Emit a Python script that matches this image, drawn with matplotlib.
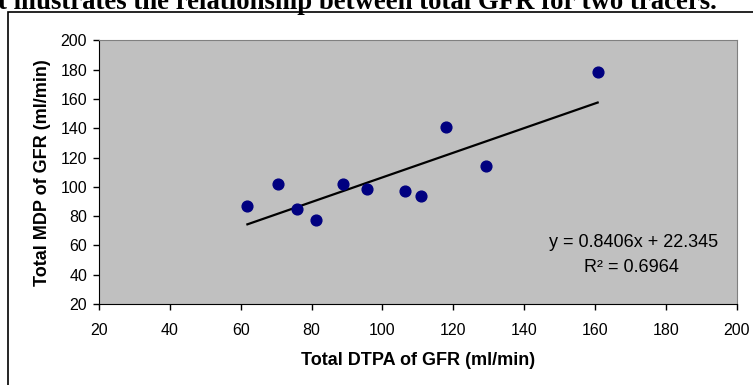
import matplotlib.pyplot as plt
from matplotlib.patches import Rectangle

# total GFR (ml/min)
dtpa_gfr = [61.9, 70.5, 75.9, 81.4, 88.9, 95.8, 106.4, 110.9, 118.1, 129.3, 160.8]
mdp_gfr = [86.9, 101.9, 84.8, 77.1, 101.9, 98.3, 96.9, 93.5, 141.0, 114.4, 178.2]
slope = 0.8406
intercept = 22.345
r_squared = 0.6964
ticks = [20, 40, 60, 80, 100, 120, 140, 160, 180, 200]

plt.rcParams["font.family"] = ["Liberation Sans", "DejaVu Sans"]

fig = plt.figure(figsize=(7.53, 3.85), dpi=100)
W, H = 753, 385

# cut-off caption from the page above the chart
fig.text(-2 / W, 1 - 9 / H, "t illustrates the relationship between total GFR for two tracers.",
         family=["Liberation Serif", "DejaVu Serif"], fontweight="bold", fontsize=19.3,
         ha="left", va="baseline")

# outer chart frame (runs past the right and bottom edges)
fig.patches.append(Rectangle((8 / W, -0.1), 1.1, 1 - 12 / H + 0.1,
                             transform=fig.transFigure, fill=False,
                             edgecolor="black", linewidth=1.2))

ax = fig.add_axes([99 / W, 81 / H, (736.5 - 99) / W, (304 - 40.3) / H])
ax.set_facecolor("#c0c0c0")

ax.scatter(dtpa_gfr, mdp_gfr, s=60, color="#000080", zorder=3)

x0, x1 = min(dtpa_gfr), max(dtpa_gfr)
ax.plot([x0, x1], [slope * x0 + intercept, slope * x1 + intercept],
        color="black", linewidth=1.6, zorder=2)

ax.text(0.839, 0.216, f"y = {slope}x + {intercept}", transform=ax.transAxes,
        ha="center", va="baseline", fontsize=13)
ax.text(0.835, 0.121, f"R\u00b2 = {r_squared}", transform=ax.transAxes,
        ha="center", va="baseline", fontsize=13)

ax.set_xlim(20, 200)
ax.set_ylim(20, 200)
ax.set_xticks(ticks)
ax.set_yticks(ticks)
ax.tick_params(direction="out", length=4, width=1, labelsize=11.5)
ax.tick_params(axis="x", pad=10)
ax.tick_params(axis="y", pad=4.5)

for side in ("top", "right"):
    ax.spines[side].set_color("#808080")
for side in ("left", "bottom"):
    ax.spines[side].set_color("black")

ax.set_xlabel("Total DTPA of GFR (ml/min)", fontweight="bold", fontsize=13, labelpad=10)
ax.set_ylabel("Total MDP of GFR (ml/min)", fontweight="bold", fontsize=13, labelpad=7)

fig.savefig("out.png", dpi=100)
